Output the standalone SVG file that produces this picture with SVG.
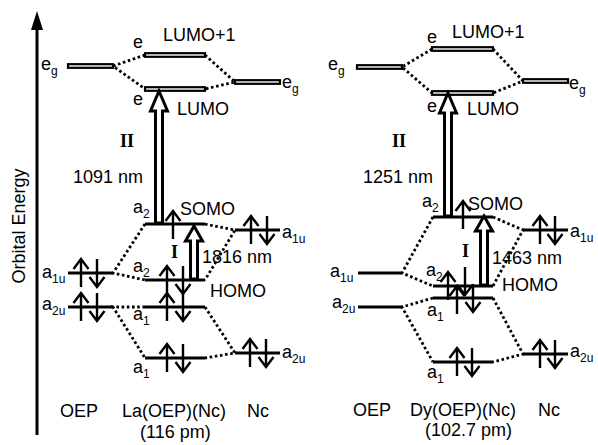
<svg xmlns="http://www.w3.org/2000/svg" xmlns:xlink="http://www.w3.org/1999/xlink" width="598" height="445" viewBox="0 0 598 445">
<style>
.t{font-family:"Liberation Sans",Arial,sans-serif;font-size:18px;fill:#000}
.s{font-size:12px}
.r{font-family:"Liberation Serif","Times New Roman",serif;font-weight:bold;font-size:18px;fill:#000}
.lv{stroke:#000;stroke-width:3;fill:none}
.dbl{stroke:#000;stroke-width:2.2;fill:#fff}
.dot{stroke:#000;stroke-width:2.8;stroke-dasharray:2.6 2.6;fill:none}
.el{stroke:#000;stroke-width:2.4;fill:none}
.ha{stroke:#000;stroke-width:3;fill:#fff;stroke-linejoin:miter}
</style>
<defs>
<path id="up" d="M0,14 V-14 M-7.5,-4 L0,-14 L7.5,-4" class="el"/>
<path id="dn" d="M0,-14 V14 M-7.5,4 L0,14 L7.5,4" class="el"/>
</defs>
<rect width="598" height="445" fill="#fff"/>

<g id="axis">
<line x1="37" y1="28" x2="37" y2="435" stroke="#000" stroke-width="3"/>
<polygon points="37,11 31,30 43,30" fill="#000"/>
<text class="t" transform="translate(25,226) rotate(-90)" text-anchor="middle" font-size="19">Orbital Energy</text>
</g>

<g id="connectors">
<polyline class="dot" points="145,55 113,66 145,89"/>
<polyline class="dot" points="205,55 235,82 205,89"/>
<polyline class="dot" points="145,224 113,273 145,280"/>
<polyline class="dot" points="205,224 235,230 205,280"/>
<polyline class="dot" points="145,307 113,307 145,358"/>
<polyline class="dot" points="205,307 235,353 205,358"/>
<polyline class="dot" points="432,49 402,67 432,93"/>
<polyline class="dot" points="493,49 523,81 493,93"/>
<polyline class="dot" points="433,217 402,273 433,286"/>
<polyline class="dot" points="493,217 523,230 493,286"/>
<polyline class="dot" points="433,298 402,307 433,362"/>
<polyline class="dot" points="493,298 523,354 493,362"/>
</g>

<!-- ===== Left panel ===== -->
<g id="L-OEP-eg">
<rect class="dbl" x="68" y="64.2" width="45" height="3.6"/>
<text class="t" x="41" y="70">e<tspan class="s" dy="5">g</tspan></text>
</g>
<g id="L-LUMO1">
<rect class="dbl" x="145" y="53.2" width="60" height="3.6"/>
<text class="t" x="133" y="48">e</text>
<text class="t" x="163" y="41">LUMO+1</text>
</g>
<g id="L-LUMO">
<rect class="dbl" x="145" y="87.2" width="60" height="3.6"/>
<text class="t" x="133" y="105">e</text>
<text class="t" x="177" y="115">LUMO</text>
</g>
<g id="L-Nc-eg">
<rect class="dbl" x="235" y="80.2" width="45" height="3.6"/>
<text class="t" x="282" y="88">e<tspan class="s" dy="5">g</tspan></text>
</g>
<g id="L-SOMO">
<line class="lv" x1="145" y1="224" x2="205" y2="224"/>
<use xlink:href="#up" x="173" y="225"/>
<text class="t" x="133" y="213">a<tspan class="s" dy="5">2</tspan></text>
<text class="t" x="180" y="215">SOMO</text>
</g>
<g id="L-Nc-a1u">
<line class="lv" x1="235" y1="230" x2="280" y2="230"/>
<use xlink:href="#up" x="251" y="230"/>
<use xlink:href="#dn" x="267" y="230"/>
<text class="t" x="282" y="238">a<tspan class="s" dy="5">1u</tspan></text>
</g>
<g id="L-OEP-a1u">
<line class="lv" x1="68" y1="273" x2="113" y2="273"/>
<use xlink:href="#up" x="81" y="273"/>
<use xlink:href="#dn" x="97" y="273"/>
<text class="t" x="42" y="278">a<tspan class="s" dy="5">1u</tspan></text>
</g>
<g id="L-HOMO">
<line class="lv" x1="145" y1="280" x2="205" y2="280"/>
<use xlink:href="#up" x="167" y="280"/>
<use xlink:href="#dn" x="183" y="280"/>
<text class="t" x="133" y="272">a<tspan class="s" dy="5">2</tspan></text>
<text class="t" x="210" y="297">HOMO</text>
</g>
<g id="L-OEP-a2u">
<line class="lv" x1="68" y1="307" x2="113" y2="307"/>
<use xlink:href="#up" x="81" y="307"/>
<use xlink:href="#dn" x="97" y="307"/>
<text class="t" x="42" y="310">a<tspan class="s" dy="5">2u</tspan></text>
</g>
<g id="L-a1-mid">
<line class="lv" x1="145" y1="307" x2="205" y2="307"/>
<use xlink:href="#up" x="167" y="307"/>
<use xlink:href="#dn" x="183" y="307"/>
<text class="t" x="133" y="320">a<tspan class="s" dy="5">1</tspan></text>
</g>
<g id="L-a1-low">
<line class="lv" x1="145" y1="358" x2="205" y2="358"/>
<use xlink:href="#up" x="167" y="358"/>
<use xlink:href="#dn" x="183" y="358"/>
<text class="t" x="133" y="373">a<tspan class="s" dy="5">1</tspan></text>
</g>
<g id="L-Nc-a2u">
<line class="lv" x1="235" y1="353" x2="280" y2="353"/>
<use xlink:href="#up" x="250" y="353"/>
<use xlink:href="#dn" x="266" y="353"/>
<text class="t" x="282" y="358">a<tspan class="s" dy="5">2u</tspan></text>
</g>
<g id="L-transII">
<path class="ha" d="M159,91 L167.5,111 L162.5,111 L162.5,223 L155.5,223 L155.5,111 L150.5,111 Z"/>
<text class="r" x="120" y="147">II</text>
<text class="t" x="73" y="183">1091 nm</text>
</g>
<g id="L-transI">
<path class="ha" d="M194,226 L202.5,241 L197.5,241 L197.5,279 L190.5,279 L190.5,241 L185.5,241 Z"/>
<text class="r" x="171" y="258">I</text>
<text class="t" x="202" y="263">1816 nm</text>
</g>
<g id="L-labels">
<text class="t" x="60" y="417">OEP</text>
<text class="t" x="122" y="417">La(OEP)(Nc)</text>
<text class="t" x="247" y="417">Nc</text>
<text class="t" x="140" y="438">(116 pm)</text>
</g>

<!-- ===== Right panel ===== -->
<g id="R-OEP-eg">
<rect class="dbl" x="357" y="65.2" width="45" height="3.6"/>
<text class="t" x="328" y="70">e<tspan class="s" dy="5">g</tspan></text>
</g>
<g id="R-LUMO1">
<rect class="dbl" x="432" y="47.2" width="61" height="3.6"/>
<text class="t" x="427" y="43">e</text>
<text class="t" x="452" y="38">LUMO+1</text>
</g>
<g id="R-LUMO">
<rect class="dbl" x="432" y="91.2" width="61" height="3.6"/>
<text class="t" x="427" y="112">e</text>
<text class="t" x="467" y="115">LUMO</text>
</g>
<g id="R-Nc-eg">
<rect class="dbl" x="523" y="79.2" width="45" height="3.6"/>
<text class="t" x="569" y="89">e<tspan class="s" dy="5">g</tspan></text>
</g>
<g id="R-SOMO">
<line class="lv" x1="433" y1="217" x2="493" y2="217"/>
<use xlink:href="#up" x="463" y="215"/>
<text class="t" x="422" y="207">a<tspan class="s" dy="5">2</tspan></text>
<text class="t" x="468" y="210">SOMO</text>
</g>
<g id="R-Nc-a1u">
<line class="lv" x1="523" y1="230" x2="568" y2="230"/>
<use xlink:href="#up" x="540" y="230"/>
<use xlink:href="#dn" x="555" y="230"/>
<text class="t" x="570" y="237">a<tspan class="s" dy="5">1u</tspan></text>
</g>
<g id="R-OEP-a1u">
<line class="lv" x1="358" y1="273" x2="402" y2="273"/>
<text class="t" x="330" y="277">a<tspan class="s" dy="5">1u</tspan></text>
</g>
<g id="R-HOMO">
<line class="lv" x1="433" y1="286" x2="493" y2="286"/>
<use xlink:href="#up" x="448" y="286"/>
<use xlink:href="#dn" x="465" y="281"/>
<text class="t" x="426" y="276">a<tspan class="s" dy="5">2</tspan></text>
<text class="t" x="502" y="291">HOMO</text>
</g>
<g id="R-OEP-a2u">
<line class="lv" x1="358" y1="307" x2="402" y2="307"/>
<text class="t" x="332" y="308">a<tspan class="s" dy="5">2u</tspan></text>
</g>
<g id="R-a1-mid">
<line class="lv" x1="433" y1="298" x2="493" y2="298"/>
<use xlink:href="#up" x="457" y="300"/>
<use xlink:href="#dn" x="473" y="298"/>
<text class="t" x="427" y="316">a<tspan class="s" dy="5">1</tspan></text>
</g>
<g id="R-a1-low">
<line class="lv" x1="433" y1="362" x2="493" y2="362"/>
<use xlink:href="#up" x="457" y="362"/>
<use xlink:href="#dn" x="472" y="362"/>
<text class="t" x="427" y="378">a<tspan class="s" dy="5">1</tspan></text>
</g>
<g id="R-Nc-a2u">
<line class="lv" x1="523" y1="354" x2="568" y2="354"/>
<use xlink:href="#up" x="540" y="354"/>
<use xlink:href="#dn" x="555" y="354"/>
<text class="t" x="570" y="357">a<tspan class="s" dy="5">2u</tspan></text>
</g>
<g id="R-transII">
<path class="ha" d="M448,93 L456.5,113 L451.5,113 L451.5,216 L444.5,216 L444.5,113 L439.5,113 Z"/>
<text class="r" x="392" y="147">II</text>
<text class="t" x="363" y="183">1251 nm</text>
</g>
<g id="R-transI">
<path class="ha" d="M484,216 L492.5,231 L487.5,231 L487.5,285 L480.5,285 L480.5,231 L475.5,231 Z"/>
<text class="r" x="462" y="257">I</text>
<text class="t" x="492" y="264">1463 nm</text>
</g>
<g id="R-labels">
<text class="t" x="353" y="416">OEP</text>
<text class="t" x="410" y="416">Dy(OEP)(Nc)</text>
<text class="t" x="538" y="416">Nc</text>
<text class="t" x="425" y="436">(102.7 pm)</text>
</g>
</svg>
